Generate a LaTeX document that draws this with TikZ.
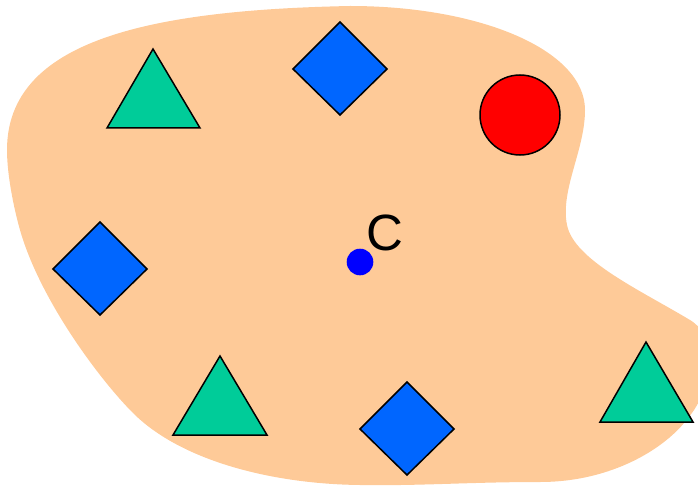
\documentclass[tikz,border=0pt]{standalone}
\usepackage{fontspec}
\setmainfont{Liberation Sans}
\definecolor{blobc}{HTML}{FECA98}
\definecolor{triC}{HTML}{00CC99}
\definecolor{diaC}{HTML}{0066FF}
\definecolor{cirC}{HTML}{FF0000}
\definecolor{dotC}{HTML}{0000FF}
\begin{document}
\begin{tikzpicture}[x=1pt,y=-1pt,
  shp/.style={draw=black,line width=1.5pt,line join=miter},
  tri/.style={shp,fill=triC},
  dia/.style={shp,fill=diaC}]
\useasboundingbox (0,0) rectangle (698,489);
\clip (0,0) rectangle (698,489);
\fill[blobc] (7,150)
  .. controls (7,40) and (150,10) .. (350,6)
  .. controls (480,6) and (585,50) .. (585,110)
  .. controls (585,150) and (560,190) .. (567,225)
  .. controls (574,260) and (640,290) .. (690,320)
  .. controls (720,338) and (712,390) .. (688,418)
  .. controls (666,448) and (612,482) .. (540,482)
  .. controls (470,482) and (420,486) .. (360,485)
  .. controls (270,484) and (180,460) .. (133,413)
  .. controls (100,380) and (40,300) .. (20,230)
  .. controls (14,209) and (7,175) .. (7,150) -- cycle;
% triangles
\draw[tri] (153,49) -- (200,128) -- (107,128) -- cycle;
\draw[tri] (220,356) -- (267,435) -- (173,435) -- cycle;
\draw[tri] (646,342) -- (693,422) -- (600,422) -- cycle;
% diamonds
\draw[dia] (340,22) -- (387,69) -- (340,115) -- (293,69) -- cycle;
\draw[dia] (100,222) -- (147,269) -- (100,315) -- (53,269) -- cycle;
\draw[dia] (407,382) -- (454,429) -- (407,475) -- (360,429) -- cycle;
% circle
\draw[shp,fill=cirC] (520,115) circle[radius=40];
% centre dot and label
\fill[dotC] (360,262) coordinate (c) circle[radius=13.3];
\node[anchor=base west,inner sep=0pt,font=\fontsize{51}{51}\selectfont] (lab) at (366.5,250.5) {C};
\end{tikzpicture}
\end{document}
